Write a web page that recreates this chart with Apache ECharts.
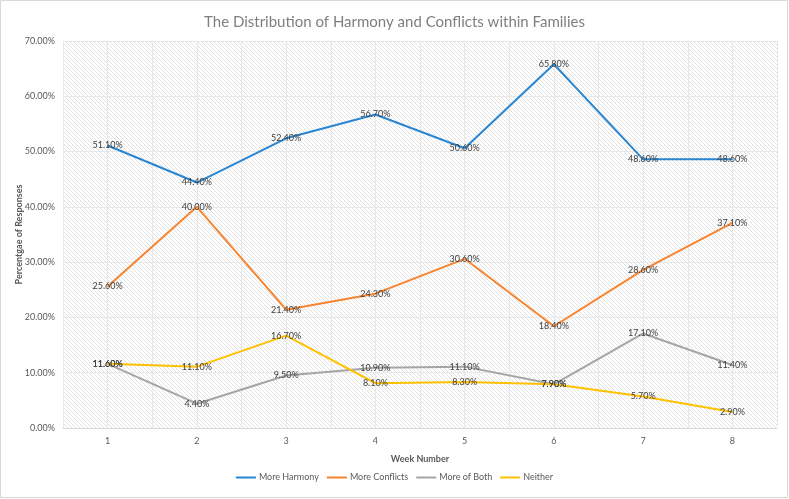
<!DOCTYPE html>
<html>
<head>
<meta charset="utf-8">
<script src="https://cdn.jsdelivr.net/npm/echarts@6/dist/echarts.min.js"></script>
<style>
html,body{margin:0;padding:0;background:#fff;}
#c{width:789px;height:499px;}
</style>
</head>
<body>
<div id="c"></div>
<script>
const weeks = ['1','2','3','4','5','6','7','8'];
const moreHarmony = [51.1, 44.4, 52.4, 56.7, 50.6, 65.8, 48.6, 48.6];
const moreConflicts = [25.6, 40.0, 21.4, 24.3, 30.6, 18.4, 28.6, 37.1];
const moreOfBoth = [11.6, 4.4, 9.5, 10.9, 11.1, 7.9, 17.1, 11.4];
const neither = [11.6, 11.1, 16.7, 8.1, 8.3, 7.9, 5.7, 2.9];
const seriesNames = ['More Harmony', 'More Conflicts', 'More of Both', 'Neither'];
const colors = ['#2A86D1', '#F7842F', '#A5A5A5', '#FFC000'];

const FONT = 'Lato';

// hatch pattern
const pc = document.createElement('canvas');
pc.width = 4; pc.height = 4;
const px = pc.getContext('2d');
px.fillStyle = '#ffffff';
px.fillRect(0,0,4,4);
px.strokeStyle = '#e2e2e2';
px.lineWidth = 1;
px.beginPath();
px.moveTo(-1,-1); px.lineTo(5,5);
px.moveTo(-1,3); px.lineTo(1,5);
px.moveTo(3,-1); px.lineTo(5,1);
px.stroke();

const chart = echarts.init(document.getElementById('c'), null, {renderer:'canvas'});

function mkSeries(name, data, color) {
  return {
    name: name,
    type: 'line',
    data: data,
    xAxisIndex: 0,
    yAxisIndex: 0,
    symbol: 'circle',
    symbolSize: 1,
    lineStyle: {color: color, width: 2},
    itemStyle: {color: color},
    label: {
      show: true,
      position: 'inside',
      formatter: p => p.value.toFixed(2) + '%',
      color: '#404040',
      fontSize: 9,
      fontFamily: FONT
    },
    emphasis: {disabled: true},
    animation: false
  };
}

chart.setOption({
  animation: false,
  title: {
    text: 'The Distribution of Harmony and Conflicts within Families',
    left: 'center',
    top: 10,
    textStyle: {color: '#7f7f7f', fontSize: 15, fontWeight: 'normal', fontFamily: FONT}
  },
  graphic: [{
    type: 'rect',
    shape: {x: 0.5, y: 0.5, width: 787, height: 497},
    style: {fill: 'none', stroke: '#d9d9d9', lineWidth: 1},
    silent: true
  }],
  legend: {
    bottom: 12,
    left: 'center',
    itemWidth: 20,
    itemHeight: 2,
    itemGap: 8,
    icon: 'rect',
    data: seriesNames,
    textStyle: {color: '#595959', fontSize: 9, fontFamily: FONT, padding: [0, 0, 0, -2]}
  },
  grid: {
    left: 63, right: 12, top: 41, bottom: 71,
    show: true,
    borderWidth: 0,
    backgroundColor: {image: pc, repeat: 'repeat'}
  },
  xAxis: [{
    type: 'category',
    data: weeks,
    boundaryGap: true,
    name: 'Week Number',
    nameLocation: 'middle',
    nameGap: 27,
    nameMoveOverlap: false,
    nameTextStyle: {color: '#595959', fontSize: 9, fontFamily: FONT, fontWeight: 'bold'},
    axisLine: {lineStyle: {color: '#d9d9d9', width: 1}},
    axisTick: {show: false},
    axisLabel: {color: '#595959', fontSize: 9, fontFamily: FONT, margin: 9},
    splitLine: {show: false}
  }, {
    type: 'value',
    min: 0, max: 16, interval: 1,
    position: 'bottom',
    axisLine: {show: false},
    axisTick: {show: false},
    axisLabel: {show: false},
    splitLine: {show: true, lineStyle: {color: '#e8e8e8', width: 1}}
  }],
  yAxis: {
    type: 'value',
    min: 0, max: 70, interval: 10,
    name: 'Percentgae of Responses',
    nameLocation: 'middle',
    nameGap: 39,
    nameMoveOverlap: false,
    nameTextStyle: {color: '#595959', fontSize: 9, fontFamily: FONT, fontWeight: 'bold'},
    axisLine: {show: false},
    axisTick: {show: false},
    axisLabel: {color: '#595959', fontSize: 9, fontFamily: FONT, margin: 8, formatter: v => v.toFixed(2) + '%'},
    splitLine: {show: true, lineStyle: {color: '#e8e8e8', width: 1}}
  },
  series: [
    mkSeries(seriesNames[0], moreHarmony, colors[0]),
    mkSeries(seriesNames[1], moreConflicts, colors[1]),
    mkSeries(seriesNames[2], moreOfBoth, colors[2]),
    mkSeries(seriesNames[3], neither, colors[3])
  ]
});
</script>
</body>
</html>
